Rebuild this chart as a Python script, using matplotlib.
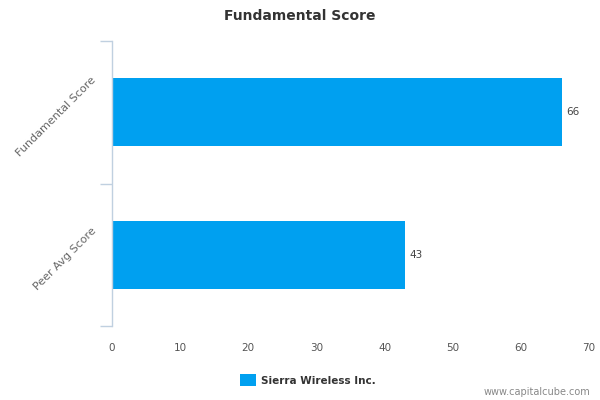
import matplotlib
matplotlib.use("Agg")
import matplotlib.pyplot as plt
import matplotlib.transforms as mtransforms
from matplotlib.patches import Rectangle

categories = ["Fundamental Score", "Peer Avg Score"]
values = [66, 43]
xticks = [0, 10, 20, 30, 40, 50, 60, 70]
series_name = "Sierra Wireless Inc."
title = "Fundamental Score"

bar_color = "#00A0F0"
axis_color = "#C0D0E0"

fig = plt.figure(figsize=(6, 4), dpi=100)
ax = fig.add_axes([112/600, 1-326/400, (589-112)/600, (326-41)/400])

ypos = list(range(len(categories)))
bars = ax.barh(ypos, values, height=0.48, color=bar_color)
ax.set_ylim(len(categories)-0.5, -0.5)
ax.set_xlim(0, 70)

for y, v in zip(ypos, values):
    ax.text(v + 0.6, y, f"{v}", va="center", ha="left", fontsize=7.5, color="#444444")

for s in ["top", "right", "bottom"]:
    ax.spines[s].set_visible(False)
ax.spines["left"].set_color(axis_color)
ax.spines["left"].set_linewidth(1)

ax.set_xticks(xticks)
ax.set_xticklabels([str(t) for t in xticks], fontsize=7.5, color="#555555")
ax.tick_params(axis="x", length=0, pad=12)

ax.set_yticks(ypos)
ax.set_yticklabels(categories, rotation=45, ha="right", va="center", fontsize=8, color="#666666")
ax.tick_params(axis="y", which="major", length=0, pad=10)
offset = mtransforms.ScaledTranslation(0, -4/100, fig.dpi_scale_trans)
for lbl in ax.get_yticklabels():
    lbl.set_transform(lbl.get_transform() + offset)
ax.set_yticks([-0.5, 0.5, 1.5], minor=True)
ax.tick_params(axis="y", which="minor", length=9, color=axis_color, width=1)

fig.text(0.5, 1-16/400, title, ha="center", va="center", fontsize=10, color="#333333", fontweight="semibold")

fig.patches.append(Rectangle((240/600, 1-386/400), 16/600, 12/400, transform=fig.transFigure,
                             facecolor=bar_color, edgecolor="none"))
fig.text(261/600, 1-380.5/400, series_name, ha="left", va="center", fontsize=7.5, color="#333333", fontweight="bold")
fig.text(590/600, 1-392/400, "www.capitalcube.com", ha="right", va="center", fontsize=7, color="#888888")

fig.savefig("out.png", dpi=100, facecolor="white")
